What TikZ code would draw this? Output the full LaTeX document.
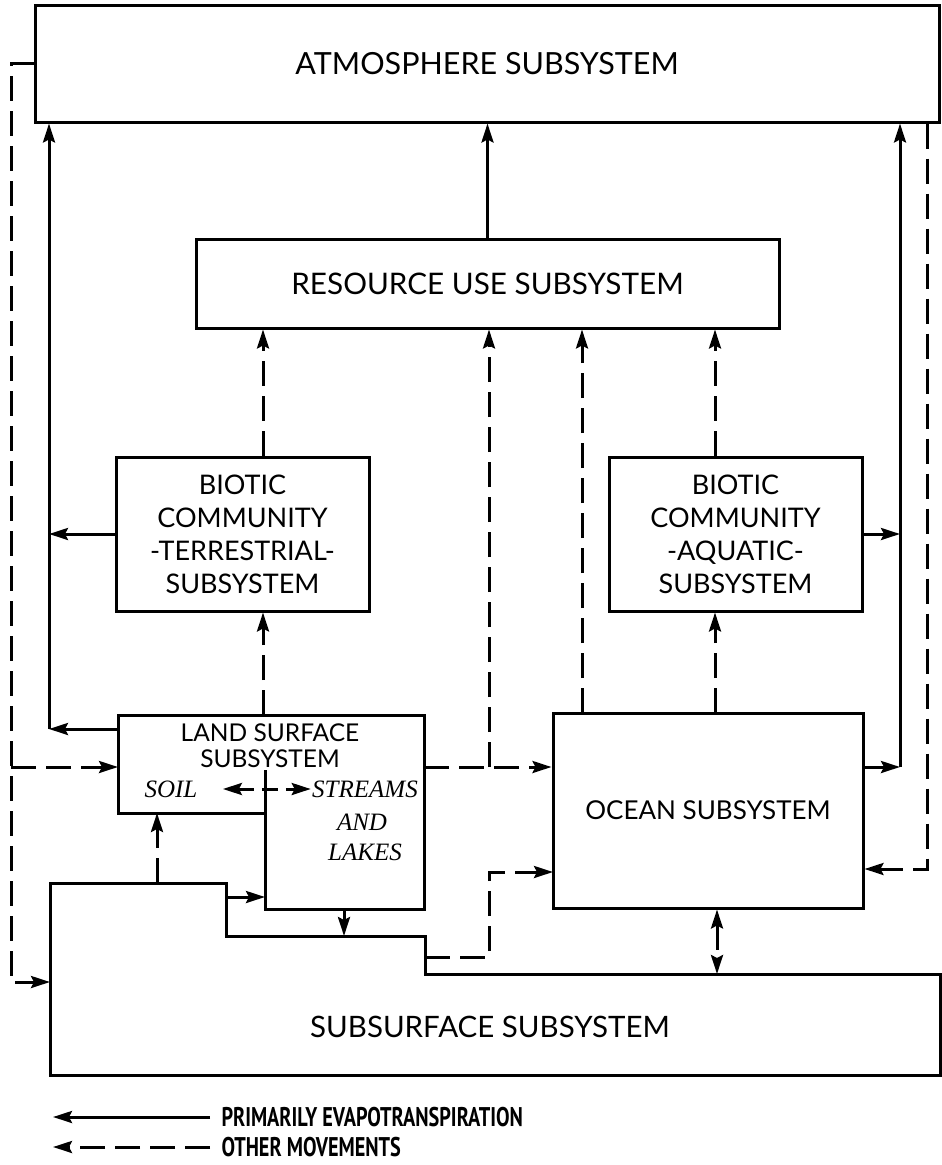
\documentclass[tikz,border=0pt]{standalone}
\usepackage{fontspec}
\setmainfont{Lato}
\newfontfamily\soilfont{Liberation Serif}
\newfontfamily\keyfont[FakeStretch=0.75]{PT Sans}
\usetikzlibrary{arrows.meta}

\begin{document}
\begin{tikzpicture}[x=1pt,y=-1pt,line width=3pt,
  >={Stealth[length=19pt,width=12pt,inset=3pt]},
  box/.style={draw,inner sep=0pt,align=center,font=\fontsize{27}{33}\selectfont},
  evap/.style={->},
  other/.style={->,dash pattern=on 25pt off 10pt},
  word/.style={inner sep=0pt,font=\soilfont\itshape\fontsize{25}{30}\selectfont},
  key/.style={inner sep=0pt,anchor=west,font=\keyfont\bfseries\fontsize{27}{30}\selectfont}]
\useasboundingbox (0,0) rectangle (942,1165);

% boxes
\node[box,minimum width=904pt,minimum height=117pt,font=\fontsize{30.5}{33}\selectfont] (atm) at (487,63.5) {ATMOSPHERE SUBSYSTEM};
\node[box,minimum width=583pt,minimum height=89pt,font=\fontsize{29.7}{33}\selectfont] (res) at (487.5,283.5) {RESOURCE USE SUBSYSTEM};
\node[box,minimum width=253pt,minimum height=154pt] (terr) at (242.5,534) {BIOTIC\\COMMUNITY\\-TERRESTRIAL-\\SUBSYSTEM};
\node[box,minimum width=253pt,minimum height=154pt] (aqua) at (735.5,534) {BIOTIC\\COMMUNITY\\-AQUATIC-\\SUBSYSTEM};
\node[box,minimum width=310pt,minimum height=195pt,font=\fontsize{26}{30}\selectfont] (ocean) at (708,810.5) {OCEAN SUBSYSTEM};

% land surface
\coordinate (lnw) at (118,715);
\coordinate (lne) at (424,715);
\coordinate (lse) at (424,909);
\coordinate (lsw) at (265,909);
\coordinate (lmid) at (265,813);
\coordinate (lw) at (118,813);
\draw (lnw) -- (lne) -- (lse) -- (lsw) -- (lmid) -- (lw) -- cycle;
\draw (lmid) -- (265,770);
\node[inner sep=0pt,align=center,font=\fontsize{24.5}{26}\selectfont] (land) at (270,746) {LAND SURFACE\\SUBSYSTEM};
\node[word] (soil) at (171,789) {SOIL};
\node[word] (streams) at (365,789) {STREAMS};
\node[word] (and) at (362,822) {AND};
\node[word] (lakes) at (365,852) {LAKES};

% subsurface
\draw (50,883) -- (226,883) -- (226,936) -- (425,936) -- (425,974)
  -- (940,974) -- (940,1075) -- (50,1075) -- cycle;
\node[inner sep=0pt,font=\fontsize{29.5}{33}\selectfont] (sub) at (490,1027) {SUBSURFACE SUBSYSTEM};

% connector ends
\coordinate (lw1) at (118,729);
\coordinate (lw2) at (118,767);
\coordinate (le) at (424,767);
\coordinate (ln) at (263,715);
\coordinate (ls) at (157,813);
\coordinate (lsl) at (265,897);
\coordinate (lb) at (344,909);
\coordinate (st) at (157,883);
\coordinate (s1) at (226,897);
\coordinate (s2) at (344,936);
\coordinate (s3) at (425,957);
\coordinate (s4) at (717,974);
\coordinate (sw) at (50,982);
\coordinate (ja) at (49,729);
\coordinate (jr) at (900,767);
\coordinate (dl) at (11,767);
\coordinate (jm) at (489,767);
\coordinate (de) at (927,869);
\coordinate (on1) at (582,713);
\coordinate (on2) at (715,713);
\coordinate (ow) at (553,872);

% evapotranspiration
\draw[evap] (res.north) -- (res.north |- atm.south);
\draw[evap] (lw1) -- (ja);
\draw[evap] (ja) -- (ja |- atm.south);
\draw[evap] (terr.west) -- (terr.west -| ja);
\draw[evap] (aqua.east) -- (aqua.east -| jr);
\draw[evap] (ocean.east |- jr) -- (jr);
\draw[evap] (jr) -- (jr |- atm.south);

% other movements
\draw[other] (atm.west) -- (atm.west -| dl) -- (dl |- sw) -- (sw);
\draw[other] (dl) -- (lw2);
\draw[other] (le) -- (le -| ocean.west);
\draw[other] (jm) -- (jm |- res.south);
\draw[other] (on1) -- (on1 |- res.south);
\draw[other] (on2) -- (on2 |- aqua.south);
\draw[other] (on2 |- aqua.north) -- (on2 |- res.south);
\draw[other] (ln) -- (ln |- terr.south);
\draw[other] (ln |- terr.north) -- (ln |- res.south);
\draw[other] (atm.south -| de) -- (de) -- (de -| ocean.east);
\draw[other] (st) -- (ls);
\draw[other] (s1) -- (lsl);
\draw[other] (lb) -- (s2);
\draw[other] (s3) -- (s3 -| jm) -- (jm |- ow) -- (ow);
\draw[other,<->] (ocean.south -| s4) -- (s4);
\draw[other,<->,dash pattern=on 16pt off 8pt] ([xshift=24pt]soil.east) -- (streams.west);

% legend
\node[key] (k1) at (220,1117) {PRIMARILY EVAPOTRANSPIRATION};
\node[key] (k2) at (220,1147) {OTHER MOVEMENTS};
\coordinate (k1e) at (53,1117);
\coordinate (k2e) at (53,1147);
\draw[evap] ([xshift=-10pt]k1.west) -- (k1e);
\draw[other] ([xshift=-10pt]k2.west) -- (k2e);
\end{tikzpicture}
\end{document}
